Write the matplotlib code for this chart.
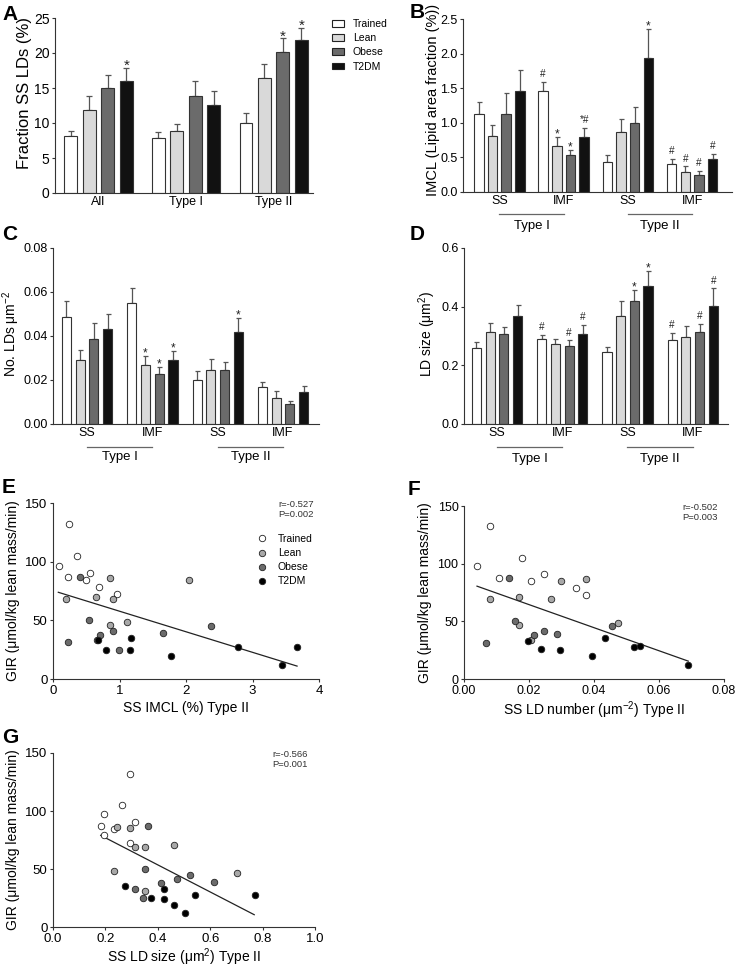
import matplotlib
matplotlib.use('Agg')
import matplotlib.pyplot as plt
from matplotlib.patches import Patch
from matplotlib.lines import Line2D
import numpy as np

plt.rcParams['font.family'] = ['Liberation Sans', 'DejaVu Sans']
plt.rcParams['mathtext.default'] = 'regular'

groups = ['Trained', 'Lean', 'Obese', 'T2DM']
bar_colors = ['#ffffff', '#d9d9d9', '#6b6b6b', '#111111']
dot_colors = ['#ffffff', '#a8a8a8', '#6b6b6b', '#000000']

# panel A - fraction SS LDs (%)
a_cats = ['All', 'Type I', 'Type II']
a_mean = [[8.1, 7.9, 10.0], [11.9, 8.9, 16.5], [15.0, 13.9, 20.2], [16.05, 12.6, 21.8]]
a_sem = [[0.8, 0.8, 1.5], [1.9, 0.95, 1.9], [1.8, 2.05, 1.9], [1.8, 2.0, 1.8]]
a_marks = [['', '', ''], ['', '', ''], ['', '', '*'], ['*', '', '*']]

# panel B - IMCL
sub_cats = ['SS', 'IMF', 'SS', 'IMF']
b_mean = [[1.13, 1.46, 0.43, 0.41], [0.81, 0.67, 0.86, 0.29], [1.13, 0.54, 0.99, 0.25], [1.46, 0.80, 1.93, 0.47]]
b_sem = [[0.17, 0.13, 0.11, 0.07], [0.16, 0.13, 0.20, 0.08], [0.30, 0.07, 0.24, 0.06], [0.31, 0.12, 0.42, 0.085]]
b_marks = [['', '#', '', '#'], ['', '*', '', '#'], ['', '*', '', '#'], ['', '*#', '*', '#']]

# panel C - LD number
c_mean = [[0.0486, 0.0552, 0.0200, 0.0167], [0.0293, 0.0266, 0.0247, 0.0117],
          [0.0386, 0.0229, 0.0244, 0.0091], [0.0431, 0.0289, 0.0418, 0.0145]]
c_sem = [[0.0071, 0.0064, 0.0042, 0.0025], [0.0043, 0.0041, 0.0050, 0.0031],
         [0.0073, 0.0029, 0.0039, 0.0015], [0.0071, 0.0041, 0.0062, 0.0028]]
c_marks = [['', '', '', ''], ['', '*', '', ''], ['', '*', '', ''], ['', '*', '*', '']]

# panel D - LD size
d_mean = [[0.258, 0.289, 0.244, 0.285], [0.313, 0.272, 0.367, 0.296],
          [0.306, 0.267, 0.421, 0.313], [0.369, 0.306, 0.469, 0.403]]
d_sem = [[0.023, 0.015, 0.018, 0.024], [0.033, 0.018, 0.054, 0.037],
         [0.024, 0.018, 0.036, 0.028], [0.038, 0.031, 0.051, 0.059]]
d_marks = [['', '#', '', '#'], ['', '', '', ''], ['', '#', '*', '#'], ['', '#', '*', '#']]

# panel E - GIR vs SS IMCL type II
e_x = [[0.095, 0.245, 0.22, 0.36, 0.49, 0.56, 0.69, 0.96],
       [0.19, 0.65, 0.86, 0.90, 0.86, 1.11, 2.04, 0.66],
       [0.40, 0.23, 0.54, 0.71, 0.90, 0.99, 1.66, 2.38],
       [0.68, 0.79, 1.16, 1.18, 1.77, 2.78, 3.45, 3.67]]
e_y = [[96.6, 132.0, 86.7, 104.5, 84.4, 90.7, 78.8, 72.5],
       [68.6, 70.3, 85.8, 68.6, 46.2, 48.2, 84.7, 32.9],
       [87.0, 31.2, 50.1, 37.4, 41.1, 24.6, 38.8, 45.0],
       [32.9, 24.9, 24.4, 34.6, 19.3, 27.5, 11.9, 27.2]]
e_fit_x = [0.08, 3.67]
e_fit_y = [73.9, 11.0]

# panel F - GIR vs SS LD number type II
f_x = [[0.0040, 0.0079, 0.0109, 0.0178, 0.0207, 0.0247, 0.0345, 0.0375],
       [0.0079, 0.0168, 0.0267, 0.0297, 0.0375, 0.0168, 0.0473, 0.0206],
       [0.0137, 0.0069, 0.0158, 0.0216, 0.0247, 0.0286, 0.0454],
       [0.0197, 0.0236, 0.0296, 0.0395, 0.0434, 0.0522, 0.0542, 0.0690]]
f_y = [[97.7, 132.5, 87.4, 105.2, 85.1, 91.4, 79.3, 72.7],
       [69.0, 70.7, 69.3, 85.3, 86.5, 46.6, 48.6, 33.9],
       [87.6, 31.6, 50.6, 37.9, 41.4, 39.1, 45.7],
       [33.3, 25.6, 25.0, 19.8, 35.3, 27.9, 28.2, 12.4]]
f_fit_x = [0.0040, 0.0690]
f_fit_y = [80.5, 15.5]

# panel G - GIR vs SS LD size type II
g_x = [[0.182, 0.194, 0.195, 0.232, 0.264, 0.294, 0.313, 0.294],
       [0.245, 0.293, 0.313, 0.353, 0.462, 0.233, 0.702, 0.353],
       [0.363, 0.353, 0.414, 0.474, 0.522, 0.613, 0.313, 0.344],
       [0.274, 0.373, 0.423, 0.423, 0.462, 0.503, 0.543, 0.772]]
g_y = [[87.1, 97.1, 79.0, 84.5, 104.9, 132.2, 90.8, 72.4],
       [86.2, 85.1, 69.0, 69.0, 70.4, 48.3, 46.6, 31.3],
       [87.4, 50.3, 37.6, 41.1, 45.1, 38.8, 32.8, 25.0],
       [35.3, 25.0, 33.0, 24.4, 19.3, 12.1, 27.9, 27.6]]
g_fit_x = [0.182, 0.768]
g_fit_y = [79.0, 10.6]

W, H = 738.0, 967.0
fig = plt.figure(figsize=(W / 100, H / 100), dpi=100)


def add_ax(left, top, right, bottom):
    return fig.add_axes([left / W, 1 - bottom / H, (right - left) / W, (bottom - top) / H])


def style(ax, fs):
    for s in ['top', 'right']:
        ax.spines[s].set_visible(False)
    for s in ['left', 'bottom']:
        ax.spines[s].set_color('#333333')
        ax.spines[s].set_linewidth(0.8)
    ax.tick_params(axis='both', direction='out', length=2.5, width=0.8,
                   color='#333333', labelsize=fs, pad=1.5)


def draw_bars(ax, means, sems, marks, pitch, width, capsize, mark_fs):
    n = len(means[0])
    base = np.arange(n)
    for g in range(4):
        x = base + (g - 1.5) * pitch
        m = np.array(means[g])
        e = np.array(sems[g])
        ax.errorbar(x, m, yerr=[np.zeros(n), e], fmt='none', ecolor='#555555',
                    elinewidth=0.9, capsize=capsize, capthick=0.9, zorder=1)
        ax.bar(x, m, width, color=bar_colors[g], edgecolor='#333333', linewidth=0.8, zorder=2)
        for i in range(n):
            s = marks[g][i]
            if not s:
                continue
            if '#' in s:
                off = 3.5
                fs = mark_fs * 0.85
            else:
                off = 3.5 - 0.45 * mark_fs
                fs = mark_fs
            ax.annotate(s, (x[i], m[i] + e[i]), xytext=(0, off), textcoords='offset points',
                        ha='center', va='baseline', fontsize=fs, color='#222222')
    ax.set_xticks(base)


def type_lines(ax, y_line, y_text, fs):
    tr = ax.get_xaxis_transform()
    for (a, b), lab in [((0, 1), 'Type I'), ((2, 3), 'Type II')]:
        ax.plot([a, b], [y_line, y_line], color='#666666', lw=0.9, transform=tr, clip_on=False)
        ax.text((a + b) / 2, y_text, lab, transform=tr, ha='center', va='center', fontsize=fs)


def draw_scatter(ax, xs, ys, fit_x, fit_y):
    ax.plot(fit_x, fit_y, color='#222222', lw=0.9, zorder=2)
    for g in range(4):
        ax.scatter(xs[g], ys[g], s=22, c=dot_colors[g], edgecolors='#222222',
                   linewidths=0.6, zorder=3, clip_on=False)
    ax.set_ylim(0, 150)
    ax.set_yticks([0, 50, 100, 150])


# A
ax = add_ax(55, 18, 313, 193)
style(ax, 10)
draw_bars(ax, a_mean, a_sem, a_marks, 0.211, 0.145, 2.5, 11)
ax.set_xticklabels(a_cats)
ax.tick_params(axis='x', length=0, labelsize=9, pad=2)
ax.set_xlim(-0.497, 2.45)
ax.set_ylim(0, 25)
ax.set_yticks([0, 5, 10, 15, 20, 25])
ax.set_ylabel('Fraction SS LDs (%)', fontsize=12)
ax.yaxis.set_label_coords(-0.09, 0.57)
handles = [Patch(facecolor=bar_colors[g], edgecolor='#222222', linewidth=0.8, label=groups[g]) for g in range(4)]
ax.legend(handles=handles, loc='upper left', bbox_to_anchor=(332 / W, 1 - 19 / H),
          bbox_transform=fig.transFigure, frameon=False, fontsize=7.5, borderpad=0,
          borderaxespad=0, handlelength=1.15, handleheight=0.6, handletextpad=0.85,
          labelspacing=0.4)

# B
ax = add_ax(463, 19, 732, 192)
style(ax, 9)
draw_bars(ax, b_mean, b_sem, b_marks, 0.213, 0.148, 1.8, 8.5)
ax.set_xticklabels(sub_cats)
ax.tick_params(axis='x', length=0, labelsize=9, pad=2)
ax.set_xlim(-0.565, 3.62)
ax.set_ylim(0, 2.5)
ax.set_yticks([0, 0.5, 1.0, 1.5, 2.0, 2.5])
ax.set_yticklabels(['0.0', '0.5', '1.0', '1.5', '2.0', '2.5'])
ax.set_ylabel('IMCL (Lipid area fraction (%))', fontsize=10.5)
ax.yaxis.set_label_coords(-0.085, 0.535)
type_lines(ax, -0.127, -0.197, 9.5)

# C
ax = add_ax(53, 248, 319, 424)
style(ax, 9)
draw_bars(ax, c_mean, c_sem, c_marks, 0.21, 0.14, 1.8, 8.5)
ax.set_xticklabels(sub_cats)
ax.tick_params(axis='x', length=0, labelsize=9, pad=2)
ax.set_xlim(-0.52, 3.55)
ax.set_ylim(0, 0.08)
ax.set_yticks([0, 0.02, 0.04, 0.06, 0.08])
ax.set_yticklabels(['0.00', '0.02', '0.04', '0.06', '0.08'])
ax.set_ylabel('No. LDs μm$^{-2}$', fontsize=10)
ax.yaxis.set_label_coords(-0.115, 0.51)
type_lines(ax, -0.131, -0.19, 9.5)

# D
ax = add_ax(464, 248, 728, 424)
style(ax, 9)
draw_bars(ax, d_mean, d_sem, d_marks, 0.21, 0.14, 1.8, 8.5)
ax.set_xticklabels(sub_cats)
ax.tick_params(axis='x', length=0, labelsize=9, pad=2)
ax.set_xlim(-0.505, 3.54)
ax.set_ylim(0, 0.6)
ax.set_yticks([0, 0.2, 0.4, 0.6])
ax.set_yticklabels(['0.0', '0.2', '0.4', '0.6'])
ax.set_ylabel('LD size (μm$^{2}$)', fontsize=10)
ax.yaxis.set_label_coords(-0.098, 0.51)
type_lines(ax, -0.131, -0.2, 9.5)

# E
ax = add_ax(53, 503, 319, 679)
style(ax, 9.5)
draw_scatter(ax, e_x, e_y, e_fit_x, e_fit_y)
ax.set_xlim(0, 4)
ax.set_xticks([0, 1, 2, 3, 4])
ax.set_xlabel('SS IMCL (%) Type II', fontsize=10, labelpad=3)
ax.set_ylabel('GIR (μmol/kg lean mass/min)', fontsize=10)
ax.yaxis.set_label_coords(-0.125, 0.5)
ax.text(0.846, 1.017, 'r=-0.527\nP=0.002', transform=ax.transAxes, ha='left', va='top',
        fontsize=6.8, color='#333333', linespacing=1.15)
leg_handles = [Line2D([], [], ls='none', marker='o', markersize=4.6, markerfacecolor=dot_colors[g],
                      markeredgecolor='#222222', markeredgewidth=0.6, label=groups[g]) for g in range(4)]
ax.legend(handles=leg_handles, loc='upper left', bbox_to_anchor=(256 / W, 1 - 534 / H),
          bbox_transform=fig.transFigure, frameon=False, fontsize=7.5, borderpad=0,
          borderaxespad=0, handlelength=1.1, handletextpad=1.0, labelspacing=0.4)

# F
ax = add_ax(464, 506, 724, 679)
style(ax, 9)
draw_scatter(ax, f_x, f_y, f_fit_x, f_fit_y)
ax.set_xlim(0, 0.08)
ax.set_xticks([0, 0.02, 0.04, 0.06, 0.08])
ax.set_xticklabels(['0.00', '0.02', '0.04', '0.06', '0.08'])
ax.set_xlabel('SS LD number (μm$^{-2}$) Type II', fontsize=10, labelpad=2)
ax.set_ylabel('GIR (μmol/kg lean mass/min)', fontsize=10)
ax.yaxis.set_label_coords(-0.125, 0.5)
ax.text(0.838, 1.017, 'r=-0.502\nP=0.003', transform=ax.transAxes, ha='left', va='top',
        fontsize=6.8, color='#333333', linespacing=1.15)

# G
ax = add_ax(53, 753, 315, 927)
style(ax, 9.5)
draw_scatter(ax, g_x, g_y, g_fit_x, g_fit_y)
ax.set_xlim(0, 1.0)
ax.set_xticks([0, 0.2, 0.4, 0.6, 0.8, 1.0])
ax.set_xticklabels(['0.0', '0.2', '0.4', '0.6', '0.8', '1.0'])
ax.set_xlabel('SS LD size (μm$^{2}$) Type II', fontsize=10, labelpad=1)
ax.set_ylabel('GIR (μmol/kg lean mass/min)', fontsize=10)
ax.yaxis.set_label_coords(-0.127, 0.5)
ax.text(0.836, 1.017, 'r=-0.566\nP=0.001', transform=ax.transAxes, ha='left', va='top',
        fontsize=6.8, color='#333333', linespacing=1.15)

# panel letters
for lab, px, py in [('A', 2, 20), ('B', 410, 18), ('C', 2, 240), ('D', 410, 240),
                    ('E', 2, 493), ('F', 408, 495), ('G', 2, 743)]:
    fig.text(px / W, 1 - py / H, lab, fontsize=15, fontweight='bold', va='baseline', ha='left')

fig.savefig('out.png', dpi=100)
